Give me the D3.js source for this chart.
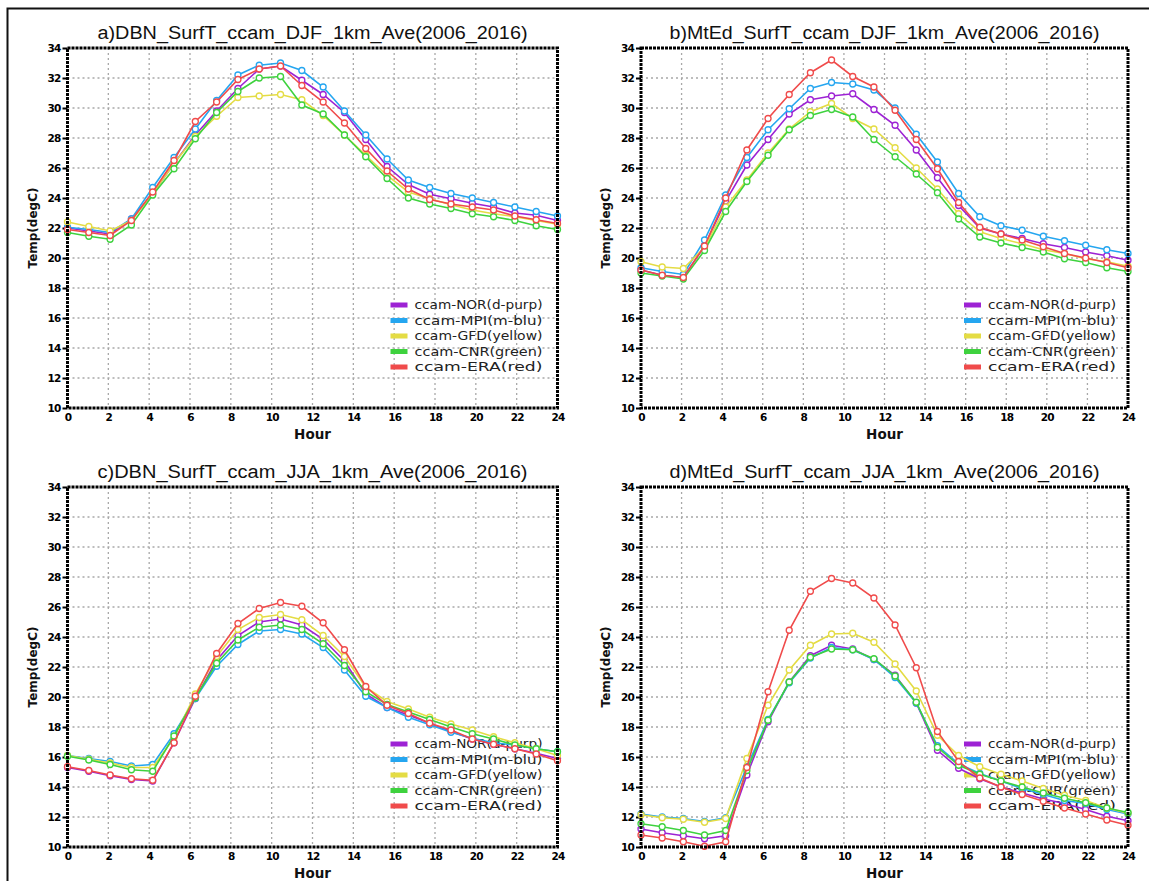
<!DOCTYPE html>
<html>
<head>
<meta charset="utf-8">
<script src="https://cdn.jsdelivr.net/npm/d3@7/dist/d3.min.js"></script>
<style>
  html, body { margin: 0; padding: 0; background: #fff; }
  svg { display: block; }
</style>
</head>
<body>
<svg id="fig" width="1149" height="881"></svg>
<script>
// Hourly diurnal-cycle surface temperature (degC), 24 samples spanning 0..24 h
const hours = d3.range(24).map(i => i * 24 / 23);

const xTicks = d3.range(0, 25, 2);
const yTicks = d3.range(10, 35, 2);

const seriesNames = ["ccam-NOR(d-purp)", "ccam-MPI(m-blu)", "ccam-GFD(yellow)", "ccam-CNR(green)", "ccam-ERA(red)"];
const seriesColors = ["#9d22d4", "#25a6f0", "#e4dc44", "#3ed23e", "#f04b4b"];

const panelTitles = [
  "a)DBN_SurfT_ccam_DJF_1km_Ave(2006_2016)",
  "b)MtEd_SurfT_ccam_DJF_1km_Ave(2006_2016)",
  "c)DBN_SurfT_ccam_JJA_1km_Ave(2006_2016)",
  "d)MtEd_SurfT_ccam_JJA_1km_Ave(2006_2016)"
];

// a) Durban, DJF
const dbnDjfNor = [22.0,21.8,21.6,22.6,24.3,26.3,28.2,29.8,31.3,32.6,32.8,31.85,30.9,29.7,27.9,26.1,24.9,24.25,23.95,23.65,23.4,23.0,22.85,22.5];
const dbnDjfMpi = [22.05,21.9,21.7,22.6,24.7,26.7,28.6,30.5,32.2,32.85,33.0,32.5,31.4,29.8,28.2,26.6,25.2,24.7,24.3,24.0,23.7,23.4,23.1,22.8];
const dbnDjfGfd = [22.4,22.1,21.8,22.5,24.3,26.3,28.1,29.45,30.7,30.8,30.9,30.55,29.5,28.2,26.85,25.5,24.4,23.95,23.55,23.2,22.95,22.75,22.5,22.25];
const dbnDjfCnr = [21.7,21.45,21.25,22.2,24.2,25.95,27.95,29.7,31.1,32.0,32.1,30.2,29.6,28.2,26.75,25.3,24.0,23.6,23.3,22.95,22.75,22.5,22.15,21.9];
const dbnDjfEra = [21.9,21.7,21.5,22.5,24.4,26.5,29.1,30.4,31.9,32.6,32.8,31.5,30.4,29.0,27.3,25.8,24.6,23.9,23.6,23.4,23.2,22.8,22.55,22.3];

// b) Mount Edgecombe, DJF
const mteDjfNor = [19.2,18.85,18.7,20.8,23.8,26.2,27.9,29.6,30.55,30.8,30.95,29.9,28.85,27.2,25.35,23.5,22.0,21.6,21.3,20.95,20.7,20.4,20.15,19.85];
const mteDjfMpi = [19.35,19.1,18.9,21.2,24.2,26.7,28.55,29.95,31.3,31.7,31.6,31.2,30.0,28.25,26.4,24.3,22.75,22.15,21.85,21.45,21.15,20.85,20.55,20.3];
const mteDjfGfd = [19.75,19.4,19.3,20.7,23.4,25.2,27.0,28.6,29.75,30.3,29.3,28.6,27.35,26.0,24.6,22.95,21.75,21.3,20.95,20.55,20.3,19.95,19.75,19.45];
const mteDjfCnr = [19.0,18.8,18.6,20.5,23.1,25.1,26.85,28.55,29.5,29.9,29.4,27.9,26.75,25.6,24.35,22.6,21.4,21.0,20.7,20.4,19.95,19.7,19.35,19.1];
const mteDjfEra = [19.2,18.85,18.7,20.8,24.0,27.2,29.3,30.9,32.35,33.2,32.1,31.4,29.85,27.9,25.95,23.7,22.05,21.6,21.2,20.75,20.3,20.0,19.7,19.35];

// c) Durban, JJA
const dbnJjaNor = [15.3,15.05,14.75,14.5,14.4,16.95,19.9,22.45,24.1,25.0,25.2,24.8,23.85,22.4,20.2,19.3,18.8,18.25,17.7,17.2,16.85,16.55,16.25,15.9];
const dbnJjaMpi = [16.1,15.9,15.7,15.4,15.5,17.55,19.9,22.05,23.5,24.4,24.5,24.2,23.3,21.8,20.05,19.3,18.65,18.15,17.65,17.25,16.95,16.8,16.55,16.35];
const dbnJjaGfd = [16.1,15.85,15.6,15.3,15.3,17.3,20.2,22.7,24.5,25.3,25.5,25.15,24.1,22.7,20.65,19.7,19.2,18.65,18.2,17.8,17.35,16.95,16.55,16.1];
const dbnJjaCnr = [16.05,15.8,15.5,15.15,15.05,17.4,19.95,22.25,23.8,24.65,24.8,24.5,23.55,22.1,20.35,19.5,19.0,18.5,18.0,17.55,17.2,16.8,16.55,16.35];
const dbnJjaEra = [15.35,15.1,14.8,14.55,14.45,16.95,20.05,22.9,24.9,25.9,26.3,26.05,24.95,23.15,20.7,19.45,18.9,18.25,17.8,17.2,16.85,16.55,16.2,15.75];

// d) Mount Edgecombe, JJA
const mteJjaNor = [11.2,10.95,10.75,10.55,10.75,14.8,18.35,21.0,22.75,23.45,23.2,22.5,21.45,19.6,16.45,15.25,14.55,14.0,13.6,13.2,12.9,12.5,12.05,11.75];
const mteJjaMpi = [12.2,12.0,11.9,11.7,11.95,15.35,18.5,20.95,22.6,23.3,23.15,22.5,21.3,19.6,16.75,15.55,14.9,14.4,13.9,13.5,13.1,12.9,12.5,12.2];
const mteJjaGfd = [12.15,11.95,11.85,11.65,11.9,15.9,19.45,21.8,23.45,24.2,24.25,23.65,22.2,20.4,17.45,16.1,15.35,14.85,14.4,13.9,13.45,13.1,12.6,12.25];
const mteJjaCnr = [11.55,11.35,11.1,10.8,11.1,15.1,18.45,21.0,22.65,23.2,23.15,22.55,21.4,19.65,16.65,15.45,14.85,14.4,14.0,13.6,13.25,12.95,12.6,12.3];
const mteJjaEra = [10.8,10.6,10.35,10.05,10.35,15.3,20.35,24.45,27.05,27.9,27.6,26.6,24.8,21.95,17.7,15.7,14.6,14.0,13.5,13.05,12.6,12.2,11.8,11.45];

const panelSeries = [
  [dbnDjfNor, dbnDjfMpi, dbnDjfGfd, dbnDjfCnr, dbnDjfEra],
  [mteDjfNor, mteDjfMpi, mteDjfGfd, mteDjfCnr, mteDjfEra],
  [dbnJjaNor, dbnJjaMpi, dbnJjaGfd, dbnJjaCnr, dbnJjaEra],
  [mteJjaNor, mteJjaMpi, mteJjaGfd, mteJjaCnr, mteJjaEra]
];

// layout of the 2x2 grid of plot frames
const frames = [
  { left: 67.5, top: 48,    width: 490, height: 360 },
  { left: 641,  top: 48,    width: 487, height: 360 },
  { left: 67.5, top: 487,   width: 490, height: 360 },
  { left: 641,  top: 487,   width: 487, height: 360 }
];

const svg = d3.select("#fig");
svg.append("rect").attr("width", 1149).attr("height", 881).attr("fill", "#fff");

// outer figure border (top and left edges visible)
svg.append("path")
  .attr("d", "M7.5,881 V8.5 H1149")
  .attr("fill", "none").attr("stroke", "#111").attr("stroke-width", 2);

const tickFont = "'DejaVu Sans', sans-serif";

frames.forEach((f, p) => {
  const g = svg.append("g").attr("transform", `translate(${f.left},${f.top})`);
  const x = d3.scaleLinear().domain([0, 24]).range([0, f.width]);
  const y = d3.scaleLinear().domain([10, 34]).range([f.height, 0]);

  // dotted grid
  const grid = g.append("g").attr("stroke", "#a8a8a8").attr("stroke-width", 1.3)
    .attr("stroke-dasharray", "2,3");
  grid.selectAll("line.v").data(xTicks.filter(d => d > 0 && d < 24)).join("line")
    .attr("x1", d => x(d)).attr("x2", d => x(d)).attr("y1", 0).attr("y2", f.height);
  grid.selectAll("line.h").data(yTicks.filter(d => d > 10 && d < 34)).join("line")
    .attr("x1", 0).attr("x2", f.width).attr("y1", d => y(d)).attr("y2", d => y(d));

  // axes with tick labels
  const xAxis = d3.axisBottom(x).tickValues(xTicks).tickSize(0).tickPadding(6);
  const yAxis = d3.axisLeft(y).tickValues(yTicks).tickSize(5).tickPadding(2);
  const gx = g.append("g").attr("transform", `translate(0,${f.height})`).call(xAxis);
  const gy = g.append("g").call(yAxis);
  [gx, gy].forEach(a => {
    a.select(".domain").remove();
    a.selectAll("text").attr("font-family", tickFont).attr("font-weight", "bold")
      .attr("font-size", 10.5).attr("letter-spacing", "-0.8").attr("fill", "#000");
    a.selectAll("line").attr("stroke", "#000").attr("stroke-width", 2);
  });

  // legend (drawn beneath the curves)
  const lg = g.append("g").attr("transform", `translate(323,257)`);
  seriesNames.forEach((name, k) => {
    const row = lg.append("g").attr("transform", `translate(0,${k * 15.5})`);
    row.append("rect").attr("x", 0).attr("y", -2.5).attr("width", 17).attr("height", 5)
      .attr("fill", seriesColors[k]);
    row.append("text").attr("x", 24).attr("y", 0).attr("dy", "0.35em")
      .attr("font-family", tickFont).attr("font-size", 11.5)
      .attr("textLength", 128).attr("lengthAdjust", "spacingAndGlyphs")
      .attr("fill", "#222").text(name);
  });

  // curves with open circle markers
  const line = d3.line().x((d, i) => x(hours[i])).y(d => y(d));
  panelSeries[p].forEach((vals, k) => {
    const sg = g.append("g");
    sg.append("path").datum(vals).attr("d", line)
      .attr("fill", "none").attr("stroke", seriesColors[k]).attr("stroke-width", 1.6);
    sg.selectAll("circle").data(vals).join("circle")
      .attr("cx", (d, i) => x(hours[i])).attr("cy", d => y(d)).attr("r", 3)
      .attr("fill", "#fff").attr("stroke", seriesColors[k]).attr("stroke-width", 1.3);
  });

  // plot frame
  g.append("rect").attr("x", 0).attr("y", 0).attr("width", f.width).attr("height", f.height)
    .attr("fill", "none").attr("stroke", "#000").attr("stroke-width", 3)
    .attr("stroke-dasharray", "3,1");

  // titles and axis labels
  g.append("text").attr("x", f.width / 2).attr("y", -9).attr("text-anchor", "middle")
    .attr("font-family", "'Liberation Sans', Arial, sans-serif").attr("font-size", 18)
    .attr("textLength", 430).attr("lengthAdjust", "spacingAndGlyphs")
    .attr("fill", "#111").text(panelTitles[p]);
  g.append("text").attr("x", f.width / 2).attr("y", f.height + 31).attr("text-anchor", "middle")
    .attr("font-family", tickFont).attr("font-weight", "bold").attr("font-size", 13.5)
    .attr("fill", "#111").text("Hour");
  g.append("text").attr("transform", `translate(-31,${f.height / 2}) rotate(-90)`)
    .attr("text-anchor", "middle")
    .attr("font-family", tickFont).attr("font-weight", "bold").attr("font-size", 12)
    .attr("fill", "#111").text("Temp(degC)");
});
</script>
</body>
</html>
